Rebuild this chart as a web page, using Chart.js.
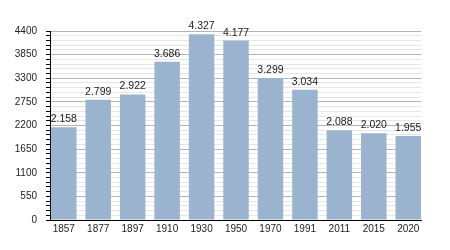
<!DOCTYPE html>
<html>
<head>
<meta charset="utf-8">
<script src="https://cdn.jsdelivr.net/npm/chart.js@4/dist/chart.umd.min.js"></script>
<style>
  html, body { margin: 0; padding: 0; background: #fff; }
  #wrap { width: 450px; height: 250px; }
</style>
</head>
<body>
<div id="wrap"><canvas id="popChart" width="450" height="250"></canvas></div>
<script>
// 資料
const years = ['1857', '1877', '1897', '1910', '1930', '1950', '1970', '1991', '2011', '2015', '2020'];
const population = [2158, 2799, 2922, 3686, 4327, 4177, 3299, 3034, 2088, 2020, 1955];
const yMax = 4400;
const yMajorStep = 550;
const yMinorStep = 110;

function formatNum(v) {
    return String(v).replace(/\B(?=(\d{3})+(?!\d))/g, '.');
}

// 柱頂數值標籤
const valueLabels = {
    id: 'valueLabels',
    afterDatasetsDraw(chart) {
        const ctx = chart.ctx;
        const meta = chart.getDatasetMeta(0);
        ctx.save();
        ctx.font = "10.5px 'Liberation Sans', Arial, sans-serif";
        ctx.fillStyle = '#222';
        ctx.textAlign = 'center';
        ctx.textBaseline = 'alphabetic';
        meta.data.forEach((bar, i) => {
            ctx.fillText(formatNum(population[i]), bar.x, bar.y - 5);
        });
        ctx.restore();
    }
};

const ctx = document.getElementById('popChart');
new Chart(ctx, {
    type: 'bar',
    data: {
        datasets: [{
            data: population.map((v, i) => ({ x: i, y: v })),
            backgroundColor: '#9ab4d0',
            borderWidth: 0,
            barPercentage: 0.74,
            categoryPercentage: 1
        }]
    },
    options: {
        responsive: false,
        animation: false,
        layout: { padding: { left: 0, right: 29, top: 31, bottom: 0 } },
        plugins: {
            legend: { display: false },
            tooltip: { enabled: false }
        },
        scales: {
            x: {
                type: 'linear',
                offset: false,
                min: -0.4,
                max: 10.37,
                afterBuildTicks: function (scale) {
                    scale.ticks = years.map((y, i) => ({ value: i }));
                },
                afterFit: function (scale) {
                    scale.height = 30;
                },
                grid: { display: false, drawTicks: false },
                border: { display: true, color: '#000', width: 1 },
                ticks: {
                    autoSkip: false,
                    maxRotation: 0,
                    padding: 3,
                    color: '#222',
                    font: { size: 10, family: "'Liberation Sans', Arial, sans-serif" },
                    callback: function (value) {
                        return years[value];
                    }
                }
            },
            y: {
                min: 0,
                max: yMax,
                afterFit: function (scale) {
                    scale.width = 50;
                },
                border: { display: true, color: '#000', width: 1 },
                grid: {
                    color: function (c) {
                        return Math.round(c.tick.value) % yMajorStep === 0 ? '#b4b4b4' : '#e6e6e6';
                    },
                    tickColor: '#000',
                    tickLength: 4
                },
                ticks: {
                    stepSize: yMinorStep,
                    autoSkip: false,
                    padding: 9,
                    color: '#222',
                    font: { size: 10, family: "'Liberation Sans', Arial, sans-serif" },
                    callback: function (value) {
                        const v = Math.round(value);
                        return v % yMajorStep === 0 ? String(v) : '';
                    }
                }
            }
        }
    },
    plugins: [valueLabels]
});
</script>
</body>
</html>
